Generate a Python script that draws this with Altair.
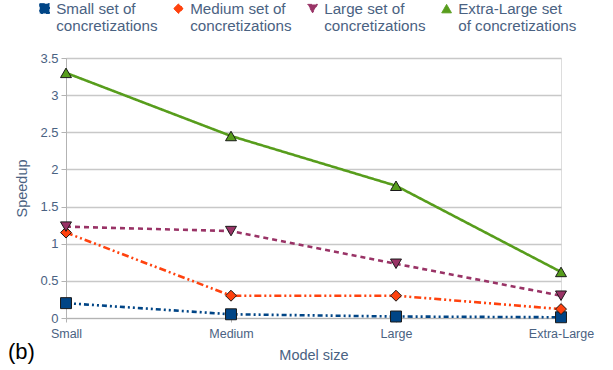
import altair as alt
import pandas as pd

model_sizes = ["Small", "Medium", "Large", "Extra-Large"]
series_names = [
    "Small set of|concretizations",
    "Medium set of|concretizations",
    "Large set of|concretizations",
    "Extra-Large set|of concretizations",
]
small_set = [0.20, 0.05, 0.02, 0.01]
medium_set = [1.15, 0.30, 0.30, 0.12]
large_set = [1.23, 1.17, 0.73, 0.30]
xlarge_set = [3.30, 2.45, 1.78, 0.62]

colors = ["#004586", "#ff420e", "#993366", "#579d1c"]
dashes = [[5, 3, 2, 3, 2, 3], [7, 3, 2, 3, 2, 3], [5, 4], [1, 0]]
shapes = ["square", "diamond", "triangle-down", "triangle-up"]

rows = []
for name, vals in zip(series_names, [small_set, medium_set, large_set, xlarge_set]):
    for m, v in zip(model_sizes, vals):
        rows.append({"series": name, "model": m, "speedup": v})
df = pd.DataFrame(rows)

axis_color = "#4a6282"
grid_color = "#c8c8c8"

x_enc = alt.X(
    "model:N",
    sort=model_sizes,
    scale=alt.Scale(type="point", padding=0),
    axis=alt.Axis(
        title="Model size", labelAngle=0, labelFontSize=12.5, labelColor=axis_color,
        titleFontSize=14.5, titleColor=axis_color, titleFontWeight="normal",
        titlePadding=9, labelPadding=5,
        domainColor="#b3b3b3", tickColor="#b3b3b3", tickSize=4, grid=False,
        labelFont="Liberation Sans", titleFont="Liberation Sans",
    ),
)
y_enc = alt.Y(
    "speedup:Q",
    scale=alt.Scale(domain=[0, 3.5]),
    axis=alt.Axis(
        title="Speedup", values=[0, 0.5, 1, 1.5, 2, 2.5, 3, 3.5], format="~g",
        labelFontSize=13, labelColor=axis_color, titleFontSize=14.5, titleColor=axis_color,
        titleFontWeight="normal", titlePadding=10, labelPadding=3,
        domainColor="#b3b3b3", tickColor="#b3b3b3", tickSize=5,
        gridColor=grid_color, gridWidth=1.3,
        labelFont="Liberation Sans", titleFont="Liberation Sans",
    ),
)

legend = alt.Legend(
    labelExpr="split(datum.label, '|')", title=None,
    orient="none", legendX=-29, legendY=-57,
    direction="horizontal", columns=4, columnPadding=13,
    labelFontSize=15.2, labelColor=axis_color, labelFont="Liberation Sans",
    labelBaseline="middle", labelOffset=4, labelLimit=220,
    symbolSize=95, symbolStrokeWidth=1, symbolOffset=0,
)
series_field = dict(field="series", type="nominal", sort=series_names, title=None, legend=legend)

lines = alt.Chart(df).mark_line(strokeWidth=2.6).encode(
    x=x_enc,
    y=y_enc,
    color=alt.Color(**series_field, scale=alt.Scale(domain=series_names, range=colors)),
    strokeDash=alt.StrokeDash(field="series", type="nominal", sort=series_names, legend=None,
                              scale=alt.Scale(domain=series_names, range=dashes)),
)

points = alt.Chart(df).mark_point(filled=True, size=120, stroke="#1a1a1a", strokeWidth=1, opacity=1).encode(
    x=x_enc,
    y=y_enc,
    fill=alt.Fill(**series_field, scale=alt.Scale(domain=series_names, range=colors)),
    shape=alt.Shape(**series_field, scale=alt.Scale(domain=series_names, range=shapes)),
)

label_b = alt.Chart(pd.DataFrame({"t": ["(b)"]})).mark_text(
    fontSize=22, font="Liberation Sans", color="#000000", align="left", baseline="middle"
).encode(text="t:N", x=alt.value(-58), y=alt.value(294))

chart = alt.layer(lines, points, label_b).properties(
    width=495, height=260,
    padding={"left": 66, "top": 58, "right": 52, "bottom": 52},
    autosize=alt.AutoSizeParams(type="none"),
).configure_view(stroke="#b3b3b3", strokeWidth=1.3).configure(background="white")

chart.save("out.html", embed_options={"renderer": "svg", "actions": False})
